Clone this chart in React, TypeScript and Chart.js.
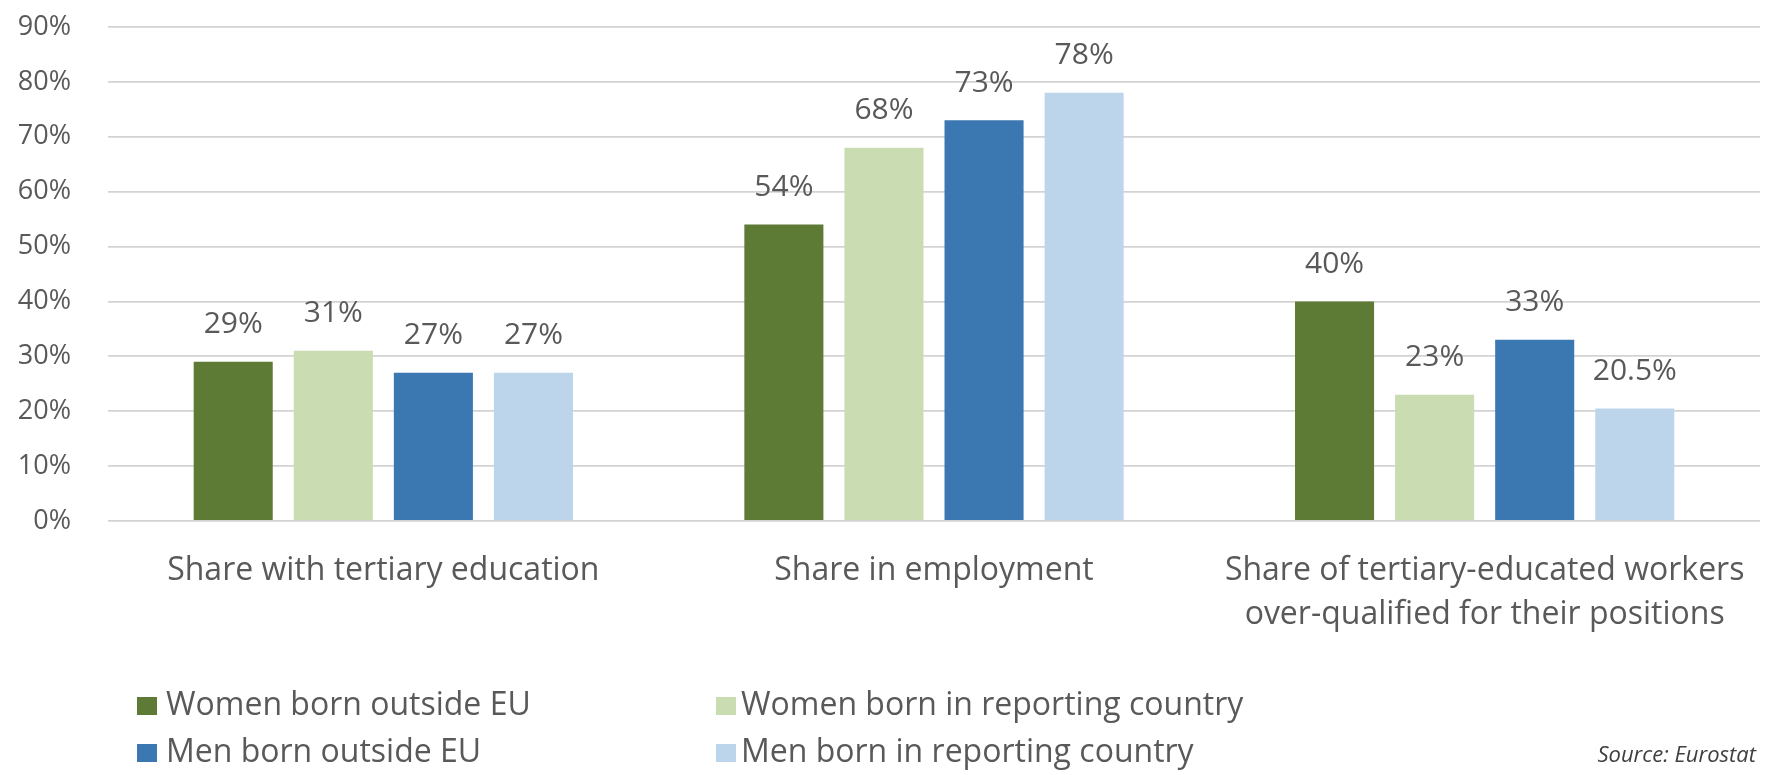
import React, { useEffect, useRef } from "react";
import { Chart, registerables } from "chart.js";

Chart.register(...registerables);

// ---- data ----
const categoryLabels: (string | string[])[] = [
  "Share with tertiary education",
  "Share in employment",
  ["Share of tertiary-educated workers", "over-qualified for their positions"],
];
const seriesNames = [
  "Women born outside EU",
  "Women born in reporting country",
  "Men born outside EU",
  "Men born in reporting country",
];
const womenOutsideEU = [29, 54, 40];
const womenReporting = [31, 68, 23];
const menOutsideEU = [27, 73, 33];
const menReporting = [27, 78, 20.5];
const seriesColors = ["#5E7B36", "#C9DCB2", "#3B77B0", "#BDD5EB"];
const yMin = 0;
const yMax = 90;
const yStep = 10;
const sourceText = "Source: Eurostat";

const FONT = "'Open Sans', 'Noto Sans', sans-serif";
const TEXT = "#595959";

const dataLabelPlugin = {
  id: "dataLabels",
  afterDatasetsDraw(chart: any) {
    const ctx = chart.ctx;
    ctx.save();
    ctx.font = `30px ${FONT}`;
    ctx.fillStyle = TEXT;
    ctx.textAlign = "center";
    ctx.textBaseline = "middle";
    chart.data.datasets.forEach((ds: any, di: number) => {
      const meta = chart.getDatasetMeta(di);
      meta.data.forEach((bar: any, i: number) => {
        ctx.fillText(`${ds.data[i]}%`, bar.x, bar.y - 37);
      });
    });
    ctx.restore();
  },
};

const gridLegendPlugin = {
  id: "gridLegend",
  afterDraw(chart: any) {
    const ctx = chart.ctx;
    const colX = [137, 716];
    const rowY = [706, 753];
    ctx.save();
    ctx.font = `32px ${FONT}`;
    ctx.textBaseline = "middle";
    ctx.textAlign = "left";
    chart.data.datasets.forEach((ds: any, i: number) => {
      const col = i % 2;
      const row = Math.floor(i / 2);
      const x = colX[col];
      const y = rowY[row];
      ctx.fillStyle = ds.backgroundColor;
      ctx.fillRect(x, y - 9, 20, 18);
      ctx.fillStyle = TEXT;
      ctx.fillText(ds.label, x + (col === 0 ? 29 : 25), y);
    });
    ctx.font = `italic 22px ${FONT}`;
    ctx.textAlign = "right";
    ctx.fillStyle = "#404040";
    ctx.fillText(sourceText, 1756, 756);
    ctx.restore();
  },
};

export default function App() {
  const canvasRef = useRef<HTMLCanvasElement | null>(null);

  useEffect(() => {
    if (!canvasRef.current) return;
    const seriesValues = [womenOutsideEU, womenReporting, menOutsideEU, menReporting];
    const chart = new Chart(canvasRef.current, {
      type: "bar",
      data: {
        labels: categoryLabels,
        datasets: seriesValues.map((vals, i) => ({
          label: seriesNames[i],
          data: vals,
          backgroundColor: seriesColors[i],
          borderWidth: 0,
          categoryPercentage: 0.727,
          barPercentage: 0.79,
        })),
      },
      options: {
        animation: false,
        responsive: true,
        maintainAspectRatio: false,
        layout: { padding: { top: 0, right: 5, left: 0, bottom: 0 } },
        plugins: {
          legend: { display: false },
          tooltip: { enabled: false },
          title: { display: false },
        },
        scales: {
          x: {
            grid: { display: false, drawTicks: false },
            border: { display: false },
            ticks: {
              color: TEXT,
              font: { family: FONT, size: 32, lineHeight: 1.4 },
              padding: 27,
              maxRotation: 0,
              autoSkip: false,
            },
            afterFit: (scale: any) => {
              scale.height = 254;
              scale.paddingLeft = 0;
              scale.paddingRight = 0;
            },
          },
          y: {
            min: yMin,
            max: yMax,
            grid: { color: "#D3D3D3", lineWidth: 1.8, drawTicks: false },
            border: { display: false },
            ticks: {
              stepSize: yStep,
              color: TEXT,
              font: { family: FONT, size: 27 },
              padding: 37,
              callback: (v: any) => `${v}%`,
            },
            afterFit: (scale: any) => {
              scale.width = 108;
              scale.paddingTop = 27;
              scale.paddingBottom = 0;
            },
          },
        },
      },
      plugins: [dataLabelPlugin, gridLegendPlugin],
    });
    return () => chart.destroy();
  }, []);

  return (
    <div
      style={{
        position: "fixed",
        left: 0,
        top: 0,
        width: 1765,
        height: 775,
        background: "#ffffff",
      }}
    >
      <canvas ref={canvasRef} />
    </div>
  );
}
